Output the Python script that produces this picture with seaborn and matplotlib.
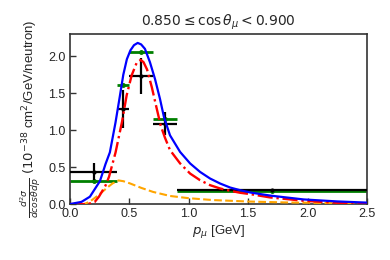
import numpy as np
import pandas as pd
import matplotlib
matplotlib.use("Agg")
import matplotlib.pyplot as plt
import seaborn as sns

# Data bins (GeV)
bin_lo = [0.0, 0.4, 0.5, 0.7, 0.9]
bin_hi = [0.4, 0.5, 0.7, 0.9, 2.5]
data_x = [0.2, 0.45, 0.6, 0.8, 1.7]
data_y = [0.44, 1.29, 1.73, 1.09, 0.19]
data_err = [0.12, 0.26, 0.245, 0.16, 0.02]
mc_y = [0.31, 1.61, 2.06, 1.15, 0.18]

# Model curves
blue_p = [0.0, 0.098, 0.169, 0.253, 0.281, 0.30, 0.337, 0.384, 0.42, 0.45, 0.48, 0.51,
          0.54, 0.571, 0.60, 0.632, 0.674, 0.717, 0.759, 0.793, 0.843, 0.928, 1.012,
          1.096, 1.18, 1.265, 1.349, 1.433, 1.518, 1.686, 1.967, 2.25, 2.5]
blue_v = [0.0, 0.03, 0.10, 0.31, 0.445, 0.54, 0.70, 1.10, 1.45, 1.75, 1.96, 2.08,
          2.15, 2.18, 2.16, 2.10, 1.92, 1.69, 1.42, 1.17, 0.93, 0.705, 0.55,
          0.435, 0.346, 0.278, 0.224, 0.188, 0.157, 0.115, 0.063, 0.036, 0.02]
red_p = [0.0, 0.15, 0.21, 0.245, 0.30, 0.33, 0.385, 0.44, 0.478, 0.52, 0.562, 0.596,
         0.62, 0.65, 0.69, 0.73, 0.765, 0.80, 0.843, 0.928, 1.012, 1.096, 1.18, 1.265,
         1.349, 1.433, 1.518, 1.686, 1.967, 2.25, 2.5]
red_v = [0.0, 0.0, 0.03, 0.10, 0.25, 0.37, 0.70, 1.12, 1.47, 1.74, 1.91, 1.95,
         1.92, 1.82, 1.58, 1.30, 1.06, 0.90, 0.73, 0.55, 0.413, 0.323, 0.256, 0.211,
         0.18, 0.153, 0.135, 0.09, 0.045, 0.018, 0.008]
orange_p = [0.0, 0.12, 0.17, 0.24, 0.32, 0.36, 0.41, 0.45, 0.506, 0.6, 0.7, 0.843,
            1.0, 1.2, 1.5, 1.8, 2.1, 2.5]
orange_v = [0.0, 0.0, 0.035, 0.12, 0.23, 0.28, 0.32, 0.31, 0.28, 0.22, 0.165, 0.11,
            0.08, 0.055, 0.035, 0.023, 0.016, 0.01]

sns.set_style("white")
plt.rcParams['font.family'] = ['Liberation Sans', 'DejaVu Sans']
plt.rcParams['mathtext.fontset'] = 'dejavusans'

fig = plt.figure(figsize=(3.9, 2.6), dpi=100)
ax = fig.add_axes([0.179, 0.215, 0.762, 0.654])

xerr_lo = [c - a for c, a in zip(data_x, bin_lo)]
xerr_hi = [b - c for c, b in zip(data_x, bin_hi)]

ax.errorbar(data_x, mc_y, xerr=[xerr_lo, xerr_hi], fmt='o', ms=2.5, color='green',
            elinewidth=2.0, capsize=0, zorder=2)
ax.errorbar(data_x, data_y, xerr=[xerr_lo, xerr_hi], yerr=data_err, fmt='o', ms=2.0,
            color='black', elinewidth=1.6, capsize=0, zorder=3)

df_b = pd.DataFrame({'p': blue_p, 'v': blue_v})
df_r = pd.DataFrame({'p': red_p, 'v': red_v})
df_o = pd.DataFrame({'p': orange_p, 'v': orange_v})
sns.lineplot(data=df_o, x='p', y='v', ax=ax, color='orange', lw=1.5,
             linestyle='--', estimator=None, sort=False, zorder=4)
sns.lineplot(data=df_r, x='p', y='v', ax=ax, color='red', lw=1.7,
             linestyle='-.', estimator=None, sort=False, zorder=5)
sns.lineplot(data=df_b, x='p', y='v', ax=ax, color='blue', lw=1.6,
             estimator=None, sort=False, zorder=6)

ax.set_xlim(0, 2.5)
ax.set_ylim(0, 2.3)
ax.set_xticks([0.0, 0.5, 1.0, 1.5, 2.0, 2.5])
ax.set_yticks([0.0, 0.5, 1.0, 1.5, 2.0])
ax.tick_params(direction='in', length=4, width=1, labelsize=9, color='.2',
               bottom=True, left=True, pad=3)
for s in ax.spines.values():
    s.set_color('.2')
    s.set_linewidth(1.2)

ax.set_title(r'$0.850 \leq \cos\theta_{\mu} < 0.900$', fontsize=10)
ax.set_xlabel(r'$p_{\mu}$ [GeV]', fontsize=9.5, labelpad=2)
ax.set_ylabel(r'$\frac{d^2\sigma}{dcos\theta dp}$ $(10^{-38}$ cm$^2$/GeV/neutron)',
              fontsize=9.5, labelpad=4)

fig.savefig('out.png', dpi=100)
